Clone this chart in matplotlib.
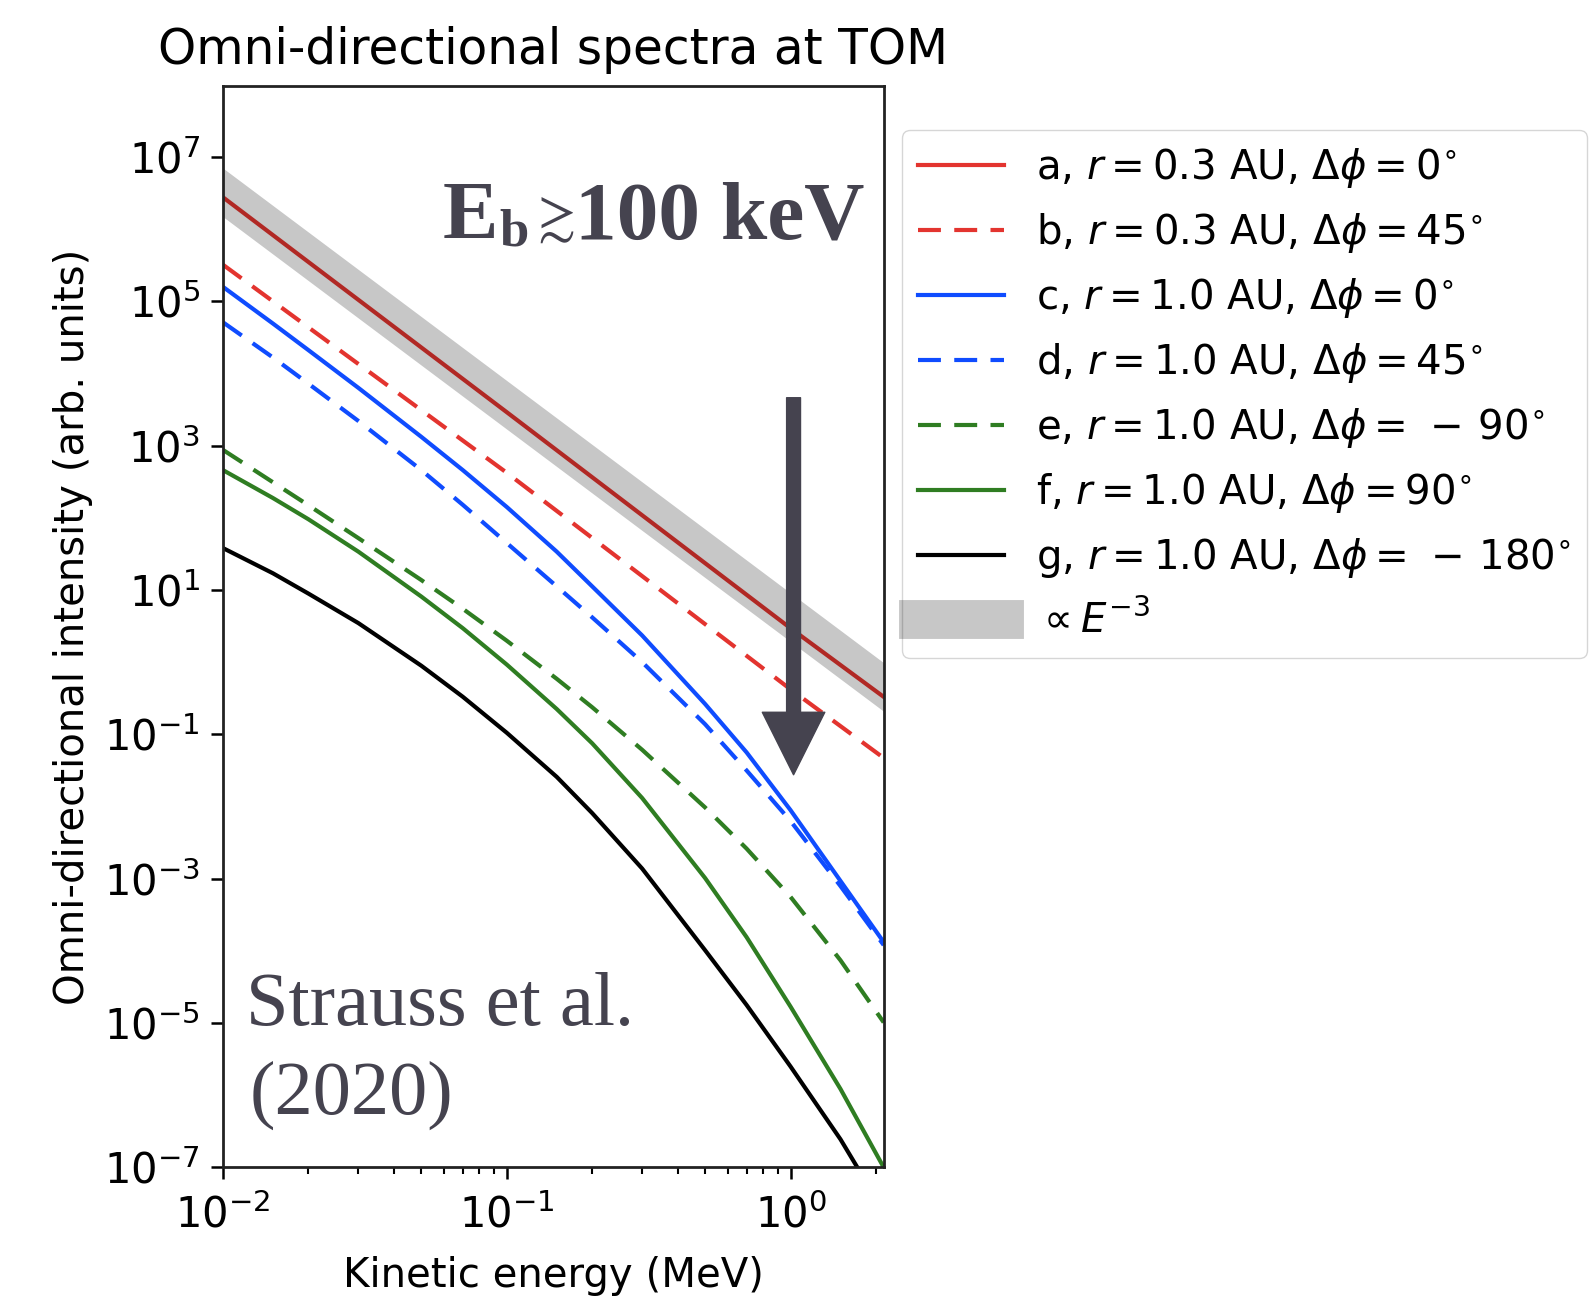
import matplotlib
matplotlib.use("Agg")
import matplotlib.pyplot as plt
from matplotlib.ticker import LogLocator, NullLocator

energy = [0.01, 0.015, 0.02, 0.03, 0.05, 0.07, 0.1, 0.15, 0.2, 0.3, 0.5, 0.7, 1.0, 1.5, 2.13]
energy_g = [0.01, 0.015, 0.02, 0.03, 0.05, 0.07, 0.1, 0.15, 0.2, 0.3, 0.5, 0.7, 1.0, 1.5, 1.72]
energy_ab = [0.01, 0.1, 1.0, 2.13]

# omni-directional intensity (arb. units)
int_a = [2.75e6, 2.9e3, 2.95, 0.33]
int_b = [3.2e5, 4.2e2, 0.42, 0.047]
int_c = [1.58e5, 4.9e4, 2.1e4, 6.3e3, 1.32e3, 457.0, 141.0, 33.9, 11.2, 2.34,
         0.263, 0.0562, 8.9e-3, 9.3e-4, 1.32e-4]
int_d = [5.1e4, 1.66e4, 7.2e3, 2.19e3, 457.0, 151.0, 44.7, 11.2, 4.17, 1.0,
         0.138, 0.0316, 6.3e-3, 7.9e-4, 1.2e-4]
int_e = [871.0, 310.0, 149.0, 52.2, 13.7, 5.48, 1.98, 0.587, 0.237, 0.061,
         9.7e-3, 2.61e-3, 5.6e-4, 7.4e-5, 1.02e-5]
int_f = [457.0, 187.5, 95.3, 33.9, 8.09, 2.95, 0.925, 0.224, 0.075, 0.0131,
         1.02e-3, 1.55e-4, 1.69e-5, 1.22e-6, 1.0e-7]
int_g = [38.0, 17.0, 8.9, 3.47, 0.891, 0.331, 0.105, 0.0257, 8.1e-3, 1.38e-3,
         1.02e-4, 1.78e-5, 2.5e-6, 2.45e-7, 1.0e-7]

# E^-3 reference band
band_e = [0.01, 2.13]
band_i = [3.2e6, 0.45]

labels = [r'a, $r = 0.3$ AU, $\Delta\phi = 0^{\circ}$',
          r'b, $r = 0.3$ AU, $\Delta\phi = 45^{\circ}$',
          r'c, $r = 1.0$ AU, $\Delta\phi = 0^{\circ}$',
          r'd, $r = 1.0$ AU, $\Delta\phi = 45^{\circ}$',
          r'e, $r = 1.0$ AU, $\Delta\phi = \,-\,90^{\circ}$',
          r'f, $r = 1.0$ AU, $\Delta\phi = 90^{\circ}$',
          r'g, $r = 1.0$ AU, $\Delta\phi = \,-\,180^{\circ}$',
          r'$\propto E^{-3}$']

red = '#e3342f'
blue = '#0f4cff'
green = '#2f7d22'
dash = (0, (5.5, 3.2))
W, H = 1589, 1297
fs = 29

fig = plt.figure(figsize=(W / 100, H / 100), dpi=100)
ax = fig.add_axes([223 / W, 1 - 1167.4 / H, 660.7 / W, 1081.3 / H])

lw = 3
ax.plot(energy_ab, int_a, color=red, lw=lw, label=labels[0])
ax.plot(energy_ab, int_b, color=red, lw=lw, ls=dash, label=labels[1])
ax.plot(energy, int_c, color=blue, lw=lw, label=labels[2])
ax.plot(energy, int_d, color=blue, lw=lw, ls=dash, label=labels[3])
ax.plot(energy, int_e, color=green, lw=lw, ls=dash, label=labels[4])
ax.plot(energy, int_f, color=green, lw=lw, label=labels[5])
ax.plot(energy_g, int_g, color='k', lw=lw, label=labels[6])
ax.plot(band_e, band_i, color='k', alpha=0.22, lw=28,
        solid_capstyle='projecting', label=labels[7])

ax.set_xscale('log')
ax.set_yscale('log')
ax.set_xlim(0.01, 2.13)
ax.set_ylim(1e-7, 10 ** 7.98)
ax.set_yticks([10.0 ** k for k in range(-7, 8, 2)])
ax.yaxis.set_minor_locator(NullLocator())
ax.xaxis.set_major_locator(LogLocator(base=10))

for s in ax.spines.values():
    s.set_linewidth(2)
    s.set_color('#222222')
ax.tick_params(which='major', length=8.5, width=1.8, labelsize=30, pad=8)
ax.tick_params(axis='x', which='major', pad=11)
ax.tick_params(which='minor', length=5, width=1.5)

ax.set_title('Omni-directional spectra at TOM', fontsize=35, pad=16)
ax.set_xlabel('Kinetic energy (MeV)', fontsize=fs, labelpad=14)
ax.set_ylabel('Omni-directional intensity (arb. units)', fontsize=fs, labelpad=8)

ax.legend(loc='upper left', bbox_to_anchor=(1.0277, 0.9594), borderaxespad=0,
          fontsize=fs, handlelength=2.13, handletextpad=0.8, labelspacing=0.52)

# break energy arrow
ax.annotate('', xy=(1.025, 0.0275), xytext=(1.025, 4.6e3),
            arrowprops=dict(arrowstyle='simple,head_length=0.45,head_width=0.45,tail_width=0.10',
                            mutation_scale=100, color='#45434f', shrinkA=0, shrinkB=0))

txt_col = '#45434f'
rend = fig.canvas.get_renderer()


def put(s, x, y, **kw):
    t = fig.text(x / W, 1 - y / H, s, va='baseline', color=txt_col, **kw)
    return t.get_window_extent(rend).x1


serif = ['Liberation Serif', 'DejaVu Serif']
x = put('E', 443, 238, family=serif, fontsize=60, weight='bold')
x = put('b', x + 1, 245, family=serif, fontsize=38, weight='bold')
x = put(r'$\gtrsim$', x, 234, fontsize=40, math_fontfamily='stix')
put('100 keV', x + 1, 238, family=serif, fontsize=60, weight='bold')

put('Strauss et al.', 246, 1025, family=serif, fontsize=55)
put('(2020)', 250, 1114, family=serif, fontsize=55)

fig.savefig('out.png', dpi=100)
